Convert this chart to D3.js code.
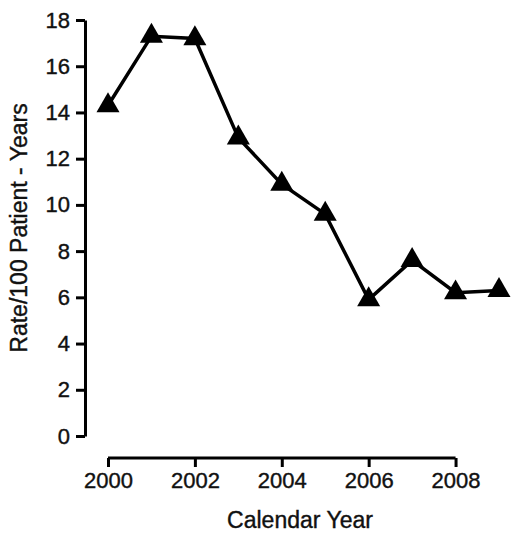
<!DOCTYPE html>
<html><head><meta charset="utf-8">
<script src="https://cdn.jsdelivr.net/npm/d3@7"></script>
<style>body{margin:0;background:#fff}text{font-family:"Liberation Sans",Arial,sans-serif;fill:#111}</style>
</head><body><div id="chart"></div>
<script>
const years = [2000, 2001, 2002, 2003, 2004, 2005, 2006, 2007, 2008, 2009];
const rates = [14.3, 17.3, 17.2, 12.9, 10.9, 9.6, 5.9, 7.6, 6.2, 6.3];
const yTicks = [0, 2, 4, 6, 8, 10, 12, 14, 16, 18];
const xTicks = [2000, 2002, 2004, 2006, 2008];

const width = 520, height = 535;
const svg = d3.select('#chart').append('svg').attr('width', width).attr('height', height);

const x = d3.scaleLinear().domain([2000, 2009]).range([108, 499]);
const y = d3.scaleLinear().domain([0, 18]).range([436, 20]);

// y axis
const yAxis = svg.append('g').attr('transform', 'translate(85,0)')
  .call(d3.axisLeft(y).tickValues(yTicks).tickSize(9).tickPadding(6).tickSizeOuter(0));
yAxis.attr('font-size', 22).attr('font-family', null);
yAxis.select('.domain').attr('stroke-width', 3);
yAxis.selectAll('.tick line').attr('stroke-width', 3);
yAxis.selectAll('text').attr('stroke', '#111').attr('stroke-width', 0.4);

// x axis
const xAxis = svg.append('g').attr('transform', 'translate(0,458)')
  .call(d3.axisBottom(x).tickValues(xTicks).tickFormat(d3.format('d')).tickSize(9).tickPadding(5).tickSizeOuter(0));
xAxis.attr('font-size', 22).attr('font-family', null);
xAxis.select('.domain').attr('d', `M${x(2000)},0H${x(2008)}`).attr('stroke-width', 3);
xAxis.selectAll('.tick line').attr('stroke-width', 3);
xAxis.selectAll('text').attr('stroke', '#111').attr('stroke-width', 0.4);

svg.append('text').attr('x', 300).attr('y', 528).attr('text-anchor', 'middle')
  .attr('stroke', '#111').attr('stroke-width', 0.4)
  .style('font-size', '23px').text('Calendar Year');
svg.append('text').attr('transform', 'translate(27,228) rotate(-90)').attr('text-anchor', 'middle')
  .attr('stroke', '#111').attr('stroke-width', 0.4)
  .style('font-size', '23px').text('Rate/100 Patient - Years');

const data = years.map((d, i) => ({ year: d, rate: rates[i] }));
svg.append('path').datum(data)
  .attr('fill', 'none').attr('stroke', '#000').attr('stroke-width', 3.5)
  .attr('d', d3.line().x(d => x(d.year)).y(d => y(d.rate)));

svg.selectAll('.pt').data(data).enter().append('path')
  .attr('transform', d => `translate(${x(d.year)},${y(d.rate)})`)
  .attr('d', d3.symbol(d3.symbolTriangle, 230))
  .attr('fill', '#000');
</script></body></html>
